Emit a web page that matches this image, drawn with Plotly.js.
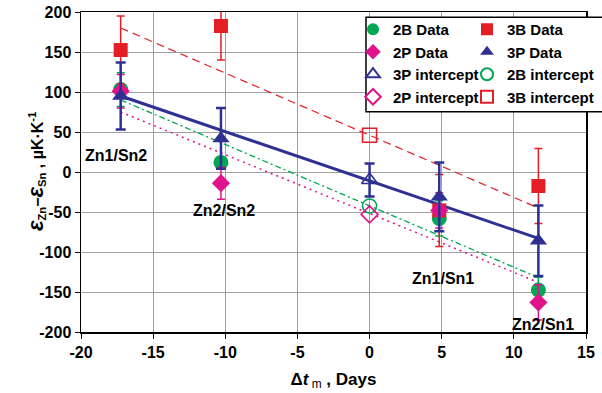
<!DOCTYPE html>
<html>
<head>
<meta charset="utf-8">
<script src="https://cdn.plot.ly/plotly-3.0.1.min.js"></script>
<style>html,body{margin:0;padding:0;background:#fff;}#chart{width:602px;height:393px;}</style>
</head>
<body>
<div id="chart"></div>
<script>
// ---- data ----
var groupX = [-17.25, -10.3, 4.83, 11.7];
var b2Y = [103, 12, -58, -147.5];
var b2Err = [21, 7, 22, 16];
var b3Y = [152.5, 182.5, -48, -17.5];
var b3Err = [42.5, 42.5, 45, 47];
var p2Y = [101, -14, -48, -163];
var p2Err = [21, 20, 22, 22];
var p3Y = [95, 42, -31, -86];
var p3Err = [42, 38, 43, 44];

var interceptX = [0];
var p3IntY = [-10];
var p3IntErr = [20.5];
var b2IntY = [-42.5];
var p2IntY = [-53];
var b3IntY = [46];

var fitX = [-17.25, 11.7];
var fit3P = [95, -83];
var fit3B = [180, -45];
var fit2B = [90, -132];
var fit2P = [75, -138];

var labelText = ['Zn1/Sn2', 'Zn2/Sn2', 'Zn1/Sn1', 'Zn2/Sn1'];
var labelX = [-17.6, -10.1, 5.1, 12.0];
var labelY = [21, -47.5, -132.5, -190];

var xTicks = [-20, -15, -10, -5, 0, 5, 10, 15];
var xTickText = ['-20', '-15', '-10', '-5', '0', '5', '10', '15'];
var yTicks = [-200, -150, -100, -50, 0, 50, 100, 150, 200];
var yTickText = ['-200', '-150', '-100', '-50', '0', '50', '100', '150', '200'];

// ---- styles ----
var GREEN = '#00A651', RED = '#E31E24', MAG = '#E0138C', BLUE = '#2E3192';
var FONT = 'Liberation Sans, Arial, sans-serif';

function errObj(arr, color, th, w) {
  return {type: 'data', array: arr, visible: true, color: color, thickness: th, width: w};
}

var traces = [
  {x: fitX, y: fit2B, mode: 'lines', line: {color: GREEN, width: 1.3, dash: '6px,3px,2px,3px'}, showlegend: false, hoverinfo: 'skip'},
  {x: fitX, y: fit2P, mode: 'lines', line: {color: MAG, width: 1.5, dash: '2px,4px'}, showlegend: false, hoverinfo: 'skip'},
  {x: fitX, y: fit3B, mode: 'lines', line: {color: RED, width: 1.2, dash: '8px,5px'}, showlegend: false, hoverinfo: 'skip'},
  {x: fitX, y: fit3P, mode: 'lines', line: {color: BLUE, width: 3}, showlegend: false, hoverinfo: 'skip'},

  {name: '2B Data', x: groupX, y: b2Y, mode: 'markers', legend: 'legend', legendgroup: 'a1',
   marker: {symbol: 'circle', size: 15, color: GREEN}, error_y: errObj(b2Err, GREEN, 1.5, 4)},
  {name: '3B Data', x: groupX, y: b3Y, mode: 'markers', legend: 'legend2', legendgroup: 'b1',
   marker: {symbol: 'square', size: 14, color: RED}, error_y: errObj(b3Err, RED, 1.5, 4)},
  {name: '2P Data', x: groupX, y: p2Y, mode: 'markers', legend: 'legend', legendgroup: 'a2',
   marker: {symbol: 'diamond', size: 14, color: MAG}, error_y: errObj(p2Err, MAG, 1.5, 4)},
  {name: '3P Data', x: groupX, y: p3Y, mode: 'markers', legend: 'legend2', legendgroup: 'b2',
   marker: {symbol: 'triangle-up', size: 15, color: BLUE}, error_y: errObj(p3Err, BLUE, 2.5, 5)},

  {name: '3P intercept', x: interceptX, y: p3IntY, mode: 'markers', legend: 'legend', legendgroup: 'a3',
   marker: {symbol: 'triangle-up-open', size: 14, color: BLUE, line: {width: 1.6}}, error_y: errObj(p3IntErr, BLUE, 2.5, 5)},
  {name: '2B intercept', x: interceptX, y: b2IntY, mode: 'markers', legend: 'legend2', legendgroup: 'b3',
   marker: {symbol: 'circle-open', size: 14, color: GREEN, line: {width: 1.6}}},
  {name: '2P intercept', x: interceptX, y: p2IntY, mode: 'markers', legend: 'legend', legendgroup: 'a4',
   marker: {symbol: 'diamond-open', size: 13, color: MAG, line: {width: 1.6}}},
  {name: '3B intercept', x: interceptX, y: b3IntY, mode: 'markers', legend: 'legend2', legendgroup: 'b4',
   marker: {symbol: 'square-open', size: 14, color: RED, line: {width: 1.6}}}
];

function px2paperX(px) { return (px - 81) / 505; }
function px2paperY(py) { return 1 - (py - 12) / 320; }

var annotations = labelText.map(function (t, i) {
  return {x: labelX[i], y: labelY[i], xref: 'x', yref: 'y', text: '<b>' + t + '</b>', showarrow: false,
          font: {family: FONT, size: 16, color: '#000'}};
});
annotations.push({
  xref: 'paper', yref: 'paper', x: px2paperX(35), y: px2paperY(172), xanchor: 'center', yanchor: 'middle',
  textangle: -90, showarrow: false,
  text: '<b><i><span style="font-size:22px">ε</span></i><sub>Zn</sub>−<i><span style="font-size:22px">ε</span></i><sub>Sn</sub> , µK·K<sup>-1</sup></b>',
  font: {family: FONT, size: 16, color: '#000'}
});

var legendCommon = {
  bgcolor: 'rgba(0,0,0,0)', borderwidth: 0, xanchor: 'left', yanchor: 'top', itemsizing: 'constant',
  font: {family: FONT, size: 15, color: '#000', weight: 'bold'}, tracegroupgap: 3, traceorder: 'normal'
};

var layout = {
  width: 602, height: 393,
  margin: {l: 81, r: 16, t: 12, b: 61, autoexpand: false},
  paper_bgcolor: '#fff', plot_bgcolor: '#fff',
  font: {family: FONT, color: '#000'},
  xaxis: {
    range: [-20, 15], tickvals: xTicks, ticktext: xTickText, showgrid: true, gridcolor: '#a0a0a0', gridwidth: 1,
    zeroline: false, showline: true, mirror: true, linecolor: '#000', linewidth: 1.5,
    ticks: 'outside', ticklen: 5, tickcolor: '#000', tickwidth: 1,
    tickfont: {family: FONT, size: 16, color: '#000', weight: 'bold'},
    title: {text: '<b>Δ<i>t</i></b><sub> m</sub><b> , Days</b>', font: {family: FONT, size: 17, color: '#000'}, standoff: 13}
  },
  yaxis: {
    range: [-200, 200], tickvals: yTicks, ticktext: yTickText, showgrid: true, gridcolor: '#a0a0a0', gridwidth: 1,
    zeroline: false, showline: true, mirror: true, linecolor: '#000', linewidth: 1.5,
    ticks: 'outside', ticklen: 5, tickcolor: '#000', tickwidth: 1,
    tickfont: {family: FONT, size: 16, color: '#000', weight: 'bold'}
  },
  legend: Object.assign({}, legendCommon, {x: px2paperX(353), y: px2paperY(13)}),
  legend2: Object.assign({}, legendCommon, {x: px2paperX(467), y: px2paperY(13)}),
  shapes: [{
    type: 'rect', xref: 'paper', yref: 'paper', layer: 'above',
    x0: px2paperX(366), x1: px2paperX(612), y0: px2paperY(111.7), y1: px2paperY(17.3),
    line: {color: '#000', width: 1.5}, fillcolor: '#fff'
  }],
  annotations: annotations,
  showlegend: true
};

Plotly.newPlot('chart', traces, layout, {displayModeBar: false, staticPlot: true});
</script>
</body>
</html>
